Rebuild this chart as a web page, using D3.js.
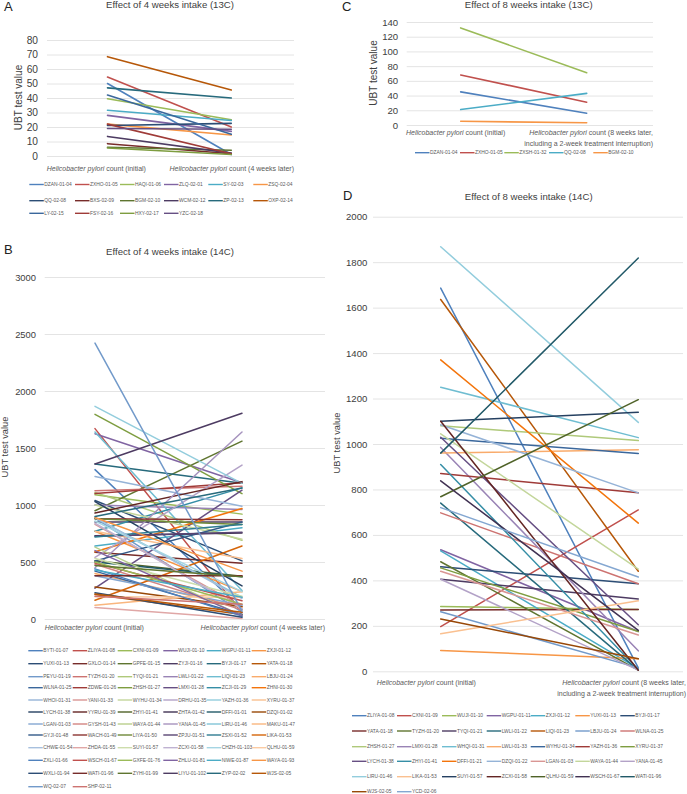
<!DOCTYPE html>
<html>
<head>
<meta charset="utf-8">
<script src="https://d3js.org/d3.v7.min.js"></script>
<style>
html,body{margin:0;padding:0;background:#fff}
svg{display:block;font-family:"Liberation Sans",Arial,sans-serif}
</style>
</head>
<body>
<svg id="c" width="687" height="794"></svg>
<script>
// ---------- data ----------
const namesA = ["DZAN-01-04","ZXHO-01-05","HAQI-01-06","ZLQ-02-01","SY-02-03","ZSQ-02-04","QQ-02-08","BXS-02-09","BGM-02-10","WCM-02-12","ZP-02-13","OXP-02-14","LY-02-15","FSY-02-16","HXY-02-17","YZC-02-18"];
const initialA = [50,54.5,39.5,28,31.5,22,21,8.5,6,13.5,47,68.5,42,22,5.5,19];
const laterA   = [1,20,25,17,24.5,14.5,22.5,1.5,4,2,40,45.5,15,1.5,1,18.5];

const namesC = ["DZAN-01-04","ZXHO-01-05","ZXSH-01-32","QQ-02-08","BGM-02-10"];
const initialC = [45,68,132,21,5];
const laterC   = [16,31,71,43,3];

const namesB = ["BYTI-01-07","ZLIYA-01-08","CXNI-01-09","WUJI-01-10","WGPU-01-11","ZXJI-01-12",
"YUXI-01-13","GXLO-01-14","GPFE-01-15","ZYJI-01-16","BYJI-01-17","YATA-01-18",
"PEYU-01-19","TYZH-01-20","TYQI-01-21","LWLI-01-22","LIQI-01-23","LBJU-01-24",
"WLNA-01-25","ZDWE-01-26","ZHSH-01-27","LMXI-01-28","ZCJI-01-29","ZHNI-01-30",
"WHOI-01-31","YANI-01-33","WYHU-01-34","DRHU-01-35","YAZH-01-36","XYRU-01-37",
"LYCH-01-38","YYRU-01-39","ZHYI-01-41","ZHTA-01-42","DFFI-01-01","DZQI-01-02",
"LGAN-01-03","GYSH-01-43","WAYA-01-44","YANA-01-45","LIRU-01-46","MAKU-01-47",
"GYJI-01-48","WACH-01-49","LIYA-01-50","ZPJU-01-51","ZSXI-01-52","LIKA-01-53",
"CHWE-01-54","ZHDA-01-55","SUYI-01-57","ZCXI-01-58","CHZH-01-103","QLHU-01-59",
"ZXLI-01-66","WSCH-01-67","GXFE-01-76","ZHLU-01-81","NIWE-01-87","WAYA-01-93",
"WXLI-01-94","WATI-01-96","ZYHI-01-99","LIYU-01-102","ZYP-02-02","WJS-02-05",
"WQ-02-07","SHP-02-11"];
const initialB = [1310,1670,1090,1625,640,770,
1040,585,950,850,1360,215,
885,1125,1110,1000,1640,400,
420,1100,1795,270,770,590,
1250,830,1000,540,1865,770,
1030,930,510,730,500,280,
380,480,630,450,890,120,
510,880,880,725,720,165,
890,100,530,840,860,195,
440,490,500,600,430,890,
230,380,470,1360,900,220,
2420,200];
const laterB = [85,55,920,1195,800,240,
510,490,1560,850,1190,40,
60,1165,690,960,250,100,
40,1195,1100,1130,1150,970,
990,110,700,1350,1190,530,
290,1205,375,755,370,110,
120,80,30,1640,190,240,
850,870,830,760,830,640,
180,5,200,90,240,190,
25,160,130,30,190,420,
15,380,370,1805,1150,60,
70,130];

const namesD = ["ZLIYA-01-08","CXNI-01-09","WUJI-01-10","WGPU-01-11","ZXJI-01-12","YUXI-01-13","BYJI-01-17",
"YATA-01-18","TYZH-01-20","TYQI-01-21","LWLI-01-22","LIQI-01-23","LBJU-01-24","WLNA-01-25",
"ZHSH-01-27","LMXI-01-28","WHQI-01-31","LWLI-01-33","WYHU-01-34","YAZH-01-36","XYRU-01-37",
"LYCH-01-38","ZHYI-01-41","DFFI-01-21","DZQI-01-22","LGAN-01-03","WAYA-01-44","YANA-01-45",
"LIRU-01-46","LIKA-01-53","SUYI-01-57","ZCXI-01-58","QLHU-01-59","WSCH-01-67","WATI-01-96",
"WJS-02-05","YCD-02-06"];
const initialD = [1686,197,285,535,530,92,460,
270,482,405,740,1636,262,697,
1080,985,1250,960,1025,870,455,
1030,910,1370,1085,440,1045,405,
1868,165,1100,1100,768,838,960,
230,720];
const laterD = [15,710,272,175,12,55,385,
272,5,318,5,440,15,385,
1015,90,1028,975,958,785,175,
205,8,652,785,160,450,5,
1095,310,1140,5,1195,180,1818,
55,415];

const periods4 = ["Helicobacter pylori count (initial)","Helicobacter pylori count (4 weeks later)"];
const periods8 = ["Helicobacter pylori count (initial)","Helicobacter pylori count (8 weeks later, including a 2-week treatment interruption)"];
const ticksA = [0,10,20,30,40,50,60,70,80];
const ticksB = [0,500,1000,1500,2000,2500,3000];
const ticksC = [0,20,40,60,80,100,120,140];
const ticksD = [0,200,400,600,800,1000,1200,1400,1600,1800,2000];

// ---------- palette (spreadsheet theme accents and their tone cycle) ----------
const accents = ["#4f81bd","#c0504d","#9bbb59","#8064a2","#4bacc6","#f79646"];
const tones = [[1,0],[.6,0],[.8,.2],[.8,0],[.6,.4],[.5,0],[.7,.3],[.7,0],[.5,.5]];
function toneColor(hue,row){
  const a = d3.hsl(accents[hue%6]);
  const t = tones[row%tones.length];
  return d3.hsl(a.h,a.s,a.l*t[0]+t[1]).formatHex();
}
const seriesColor = i => toneColor(i%6,Math.floor(i/6));
// panel C skips the purple accent; panel A's third tone row reads darker than in B and D
const colorC = i => toneColor(i<3?i:i+1,0);
const colorA = i => i<12 ? seriesColor(i) : toneColor(i%6,3);

// ---------- drawing ----------
const svg = d3.select("#c");
const ink = "#404040", labelInk = "#595959";

function panel(o){
  const g = svg.append("g");
  const color = o.color || seriesColor;
  const y = d3.scaleLinear().domain(o.yDomain).range(o.yRange);
  const x = d3.scalePoint().domain(o.periods).range(o.xRange);

  const ax = g.append("g").attr("transform",`translate(${o.gridX[0]},0)`)
    .call(d3.axisLeft(y).tickValues(o.ticks).tickFormat(d3.format("d"))
      .tickSize(-(o.gridX[1]-o.gridX[0])).tickPadding(o.tickPad));
  ax.select(".domain").remove();
  ax.selectAll(".tick line").attr("stroke","#e4e4e4").attr("stroke-width",1);
  ax.selectAll(".tick text").attr("fill",ink).attr("font-size",o.tickSize).attr("font-family","inherit");

  g.append("text").attr("transform",`translate(${o.yTitle[0]},${o.yTitle[1]}) rotate(-90)`)
    .attr("text-anchor","middle").attr("font-size",o.yTitleSize).attr("fill",ink).attr("dy",".35em").text("UBT test value");

  g.append("text").attr("x",o.letter[0]).attr("y",o.letter[1]).attr("font-size",13).attr("fill","#222").text(o.letterText);
  g.append("text").attr("x",o.title[0]).attr("y",o.title[1]).attr("text-anchor","middle").attr("dy",".35em")
    .attr("font-size",9.6).attr("fill",ink).text(o.titleText);

  const cat = (anchor,px,py,italic,rest)=>{
    const t = g.append("text").attr("x",px).attr("y",py).attr("dy",".35em").attr("text-anchor",anchor)
      .attr("font-size",7).attr("fill",labelInk);
    if(italic) t.append("tspan").attr("font-style","italic").text(italic);
    t.append("tspan").text(rest);
  };
  o.catLabels.forEach(c=>cat(c[0],c[1],c[2],c[3],c[4]));

  const line = d3.line().x(d=>x(d.p)).y(d=>y(d.v));
  o.names.forEach((n,i)=>{
    g.append("path").datum(o.periods.map((p,k)=>({p,v:k?o.later[i]:o.initial[i]})))
      .attr("d",line).attr("fill","none").attr("stroke",color(i))
      .attr("stroke-width",o.lineW).attr("stroke-linecap","round");
  });

  const perRow = o.legCols.length;
  o.names.forEach((n,i)=>{
    const lx = o.legCols[i%perRow], ly = o.legRows[Math.floor(i/perRow)];
    g.append("line").attr("x1",lx).attr("x2",lx+14.5).attr("y1",ly).attr("y2",ly)
      .attr("stroke",color(i)).attr("stroke-width",1.4);
    g.append("text").attr("x",lx+15).attr("y",ly).attr("dy",".35em").attr("font-size",4.9).attr("fill",labelInk).text(n);
  });
}

const it = "Helicobacter pylori";

panel({letterText:"A",letter:[4,11],titleText:"Effect of 4 weeks intake (13C)",title:[170,4.8],
  names:namesA,initial:initialA,later:laterA,periods:periods4,ticks:ticksA,color:colorA,
  yDomain:[0,80],yRange:[156,40],xRange:[107.5,231.3],gridX:[47,294],tickPad:9,tickSize:10.2,
  yTitle:[18,97.5],yTitleSize:10,lineW:1.6,
  catLabels:[["start",46.7,168.3,it," count (initial)"],["end",294,168.3,it," count (4 weeks later)"]],
  legCols:[29.3,75,120,164,208.3,253.3],legRows:[184.5,200.7,213.3]});

panel({letterText:"C",letter:[342,11],titleText:"Effect of 8 weeks intake (13C)",title:[528.7,4.8],
  names:namesC,initial:initialC,later:laterC,periods:periods8,ticks:ticksC,color:colorC,
  yDomain:[0,140],yRange:[125,22],xRange:[460.7,586.7],gridX:[406.7,653],tickPad:8.5,tickSize:9.6,
  yTitle:[373,73],yTitleSize:10,lineW:1.6,
  catLabels:[["start",406,132.7,it," count (initial)"],["end",653,132.7,it," count (8 weeks later,"],["end",653,144,"","including a 2-week treatment interruption)"]],
  legCols:[415,460,504.3,549,593.3],legRows:[152.7]});

panel({letterText:"B",letter:[4,254],titleText:"Effect of 4 weeks intake (14C)",title:[170,252],
  names:namesB,initial:initialB,later:laterB,periods:periods4,ticks:ticksB,
  yDomain:[0,3000],yRange:[619,277],xRange:[95,242],gridX:[44.7,325],tickPad:8.7,tickSize:9.4,
  yTitle:[5,447],yTitleSize:9.3,lineW:1.5,
  catLabels:[["start",44.7,627.3,it," count (initial)"],["end",325,627.3,it," count (4 weeks later)"]],
  legCols:[28.3,72.7,117.7,163.3,206.7,251.7],
  legRows:[650.7,663.7,676.7,687.7,700,712,724,735,747.7,760.3,773.3,786.7]});

panel({letterText:"D",letter:[343,200],titleText:"Effect of 8 weeks intake (14C)",title:[528.7,196.7],
  names:namesD,initial:initialD,later:laterD,periods:periods8,ticks:ticksD,
  yDomain:[0,2000],yRange:[671.3,216.7],xRange:[440.7,638.3],gridX:[373,683],tickPad:5.7,tickSize:9.6,
  yTitle:[337,443],yTitleSize:9.3,lineW:1.5,
  catLabels:[["start",376.7,682.7,it," count (initial)"],["end",686,682.7,it," count (8 weeks later,"],["end",686,693.7,"","including a 2-week treatment interruption)"]],
  legCols:[352,397,442,486.7,530.7,575.3,620.3],legRows:[715.7,731,746.7,761.3,776.7,791.7]});
</script>
</body>
</html>
